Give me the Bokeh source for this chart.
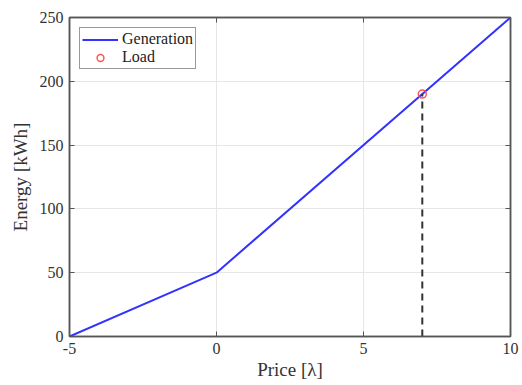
from bokeh.plotting import figure
from bokeh.models import LinearAxis, Range1d, FixedTicker, Legend, LegendItem, ColumnDataSource
from bokeh.embed import file_html
from bokeh.resources import INLINE

price = [-5, 0, 10]
generation = [0, 50, 250]
load_price = [7]
load_energy = [190]
x_ticks = [-5, 0, 5, 10]
x_tick_labels = {-5: "-5", 0: "0", 5: "5", 10: "10"}
y_ticks = [0, 50, 100, 150, 200, 250]

FONT = "Liberation Serif"
AX = "#555555"

p = figure(width=522, height=385, output_backend="svg", toolbar_location=None,
           x_range=Range1d(-5, 10), y_range=Range1d(0, 250),
           min_border_left=69, min_border_right=12, min_border_top=17, min_border_bottom=49,
           background_fill_color="white", border_fill_color="white")

p.outline_line_color = AX
p.outline_line_width = 1.5

for ax in (p.xaxis[0], p.yaxis[0]):
    ax.axis_line_color = AX
    ax.axis_line_width = 1.5
    ax.major_tick_in = 5
    ax.major_tick_out = 0
    ax.minor_tick_line_color = None
    ax.major_tick_line_color = AX
    ax.major_label_text_font = FONT
    ax.major_label_text_font_size = "16px"
    ax.major_label_text_color = "#333333"
    ax.axis_label_text_font = FONT
    ax.axis_label_text_font_size = "19px"
    ax.axis_label_text_font_style = "normal"
    ax.axis_label_text_color = "#333333"

p.xaxis[0].ticker = FixedTicker(ticks=x_ticks)
p.xaxis[0].major_label_overrides = x_tick_labels
p.yaxis[0].ticker = FixedTicker(ticks=y_ticks)
p.xaxis[0].axis_label = "Price [λ]"
p.yaxis[0].axis_label = "Energy [kWh]"
p.xaxis[0].axis_label_standoff = 2
p.yaxis[0].axis_label_standoff = 6
p.xaxis[0].major_label_standoff = 6
p.yaxis[0].major_label_standoff = 6

for loc, tk in (("right", y_ticks), ("above", x_ticks)):
    a = LinearAxis(ticker=FixedTicker(ticks=tk))
    a.major_label_text_font_size = "0px"
    a.major_label_text_color = None
    a.axis_line_color = AX
    a.axis_line_width = 1.5
    a.major_tick_in = 5
    a.major_tick_out = 0
    a.major_tick_line_color = AX
    a.minor_tick_line_color = None
    a.major_label_standoff = 0
    p.add_layout(a, loc)

p.xgrid.ticker = FixedTicker(ticks=x_ticks)
p.ygrid.ticker = FixedTicker(ticks=y_ticks)
p.grid.grid_line_color = "#e6e6e6"
p.grid.grid_line_width = 1

src_line = ColumnDataSource(dict(x=price, y=generation))
gen = p.line("x", "y", source=src_line, line_color="#3333ff", line_width=2)

p.segment(x0=load_price, y0=[0], x1=load_price, y1=load_energy,
          line_color="#333333", line_width=2, line_dash="7 5")

ld = p.scatter(load_price, load_energy, marker="circle", size=8,
               fill_color=None, line_color="#ff5555", line_width=1.5)

legend = Legend(items=[LegendItem(label="Generation", renderers=[gen]),
                       LegendItem(label="Load", renderers=[ld])],
                location="top_left")
legend.label_text_font = FONT
legend.label_text_font_size = "16px"
legend.label_text_color = "#222222"
legend.border_line_color = "#333333"
legend.border_line_width = 1
legend.margin = 10
legend.padding = 2
legend.spacing = 0
legend.label_height = 17
legend.glyph_height = 17
legend.glyph_width = 36
legend.label_standoff = 4
p.add_layout(legend)

open("out.html", "w").write(file_html(p, INLINE))
